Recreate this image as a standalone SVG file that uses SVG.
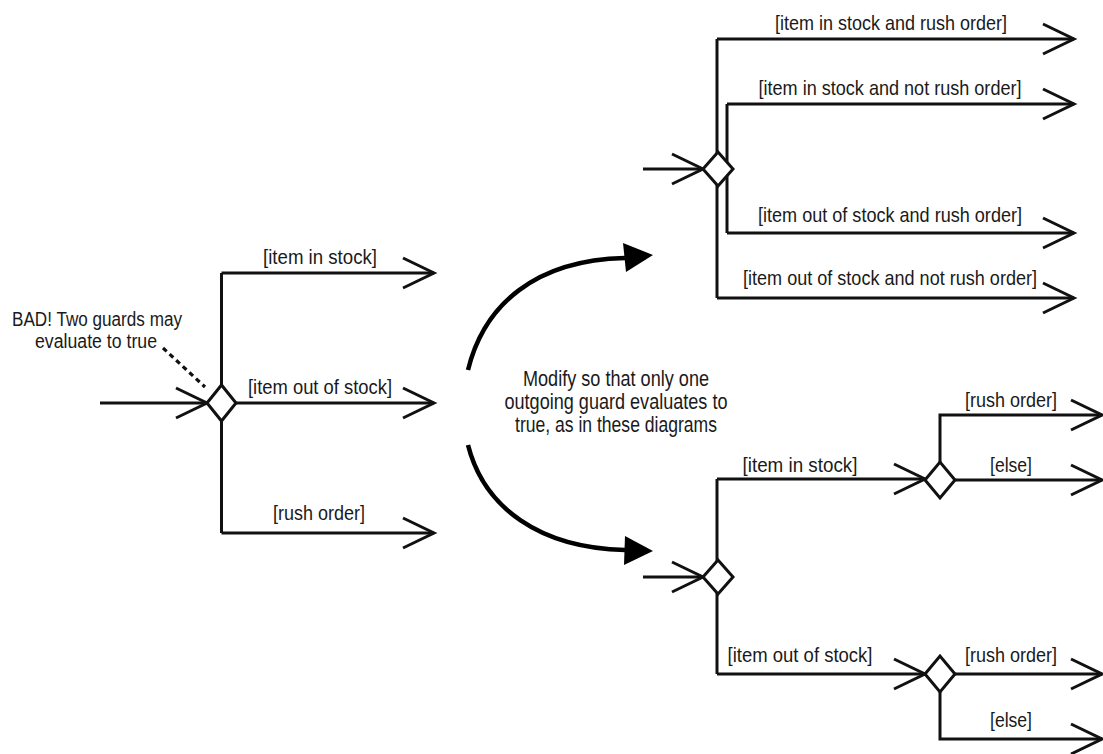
<svg xmlns="http://www.w3.org/2000/svg" width="1103" height="754" viewBox="0 0 1103 754">
  <style>
    .ln { fill: none; stroke: #111; stroke-width: 3; }
    .arr { marker-end: url(#open); }
    .dia { fill: #fff; stroke: #111; stroke-width: 3; stroke-linejoin: miter; }
    .curve { fill: none; stroke: #000; stroke-width: 4.5; stroke-linecap: butt; }
    .head { fill: #000; stroke: none; }
    .dash { fill: none; stroke: #111; stroke-width: 3.2; stroke-dasharray: 5 4; }
    text { font-family: "Liberation Sans Narrow", "Liberation Sans", Arial, sans-serif; fill: #1a1a1a; text-anchor: middle; }
    .lbl { font-size: 20px; }
    .lblr { font-size: 21px; }
    .note { font-size: 20px; }
    .mid { font-size: 22px; }
  </style>
  <defs>
    <marker id="open" markerUnits="userSpaceOnUse" markerWidth="36" markerHeight="36" viewBox="0 0 36 36" refX="33" refY="18" orient="auto" overflow="visible">
      <path d="M2,3 L33,18 L2,33" fill="none" stroke="#111" stroke-width="3"/>
    </marker>
  </defs>
  <rect width="1103" height="754" fill="#fff"/>

  <g id="connectors">
    <!-- left -->
    <path class="ln arr" d="M100,403 H207"/>
    <path class="ln" d="M221.5,273 V533"/>
    <path class="ln arr" d="M221.5,273 H434"/>
    <path class="ln arr" d="M236,403 H434"/>
    <path class="ln arr" d="M221.5,533 H434"/>
    <path class="dash" d="M163,348 L205,387"/>
    <text class="lbl" x="320" y="264" textLength="114" lengthAdjust="spacingAndGlyphs">[item in stock]</text>
    <text class="lbl" x="320" y="394" textLength="144" lengthAdjust="spacingAndGlyphs">[item out of stock]</text>
    <text class="lbl" x="319" y="520" textLength="92" lengthAdjust="spacingAndGlyphs">[rush order]</text>

    <!-- curved transition arrows -->
    <path class="curve" d="M468,370 C484,305 535,260 625,258"/>
    <polygon class="head" points="653,255 623,243 626,272"/>
    <path class="curve" d="M468,445 C484,508 540,548 625,550"/>
    <polygon class="head" points="653,551 625,536 624,565"/>

    <!-- top right -->
    <path class="ln arr" d="M643,169 H703"/>
    <path class="ln" d="M717,39 V298"/>
    <path class="ln" d="M727,104 V233"/>
    <path class="ln arr" d="M717,39 H1074"/>
    <path class="ln arr" d="M727,104 H1074"/>
    <path class="ln arr" d="M727,233 H1074"/>
    <path class="ln arr" d="M717,298 H1074"/>
    <text class="lblr" x="891" y="30" textLength="232" lengthAdjust="spacingAndGlyphs">[item in stock and rush order]</text>
    <text class="lblr" x="890" y="95" textLength="263" lengthAdjust="spacingAndGlyphs">[item in stock and not rush order]</text>
    <text class="lblr" x="890" y="222" textLength="264" lengthAdjust="spacingAndGlyphs">[item out of stock and rush order]</text>
    <text class="lblr" x="890" y="285" textLength="294" lengthAdjust="spacingAndGlyphs">[item out of stock and not rush order]</text>

    <!-- bottom right -->
    <path class="ln arr" d="M643,577 H703"/>
    <path class="ln" d="M717,479 V674"/>
    <path class="ln arr" d="M717,479 H925"/>
    <path class="ln arr" d="M717,674 H925"/>
    <path class="ln arr" d="M940,462 V415 H1102"/>
    <path class="ln arr" d="M955,480 H1102"/>
    <path class="ln arr" d="M955,674 H1102"/>
    <path class="ln arr" d="M940,692 V739 H1102"/>
    <text class="lblr" x="800" y="472" textLength="115" lengthAdjust="spacingAndGlyphs">[item in stock]</text>
    <text class="lblr" x="800" y="662" textLength="145" lengthAdjust="spacingAndGlyphs">[item out of stock]</text>
    <text class="lblr" x="1011" y="407" textLength="92" lengthAdjust="spacingAndGlyphs">[rush order]</text>
    <text class="lblr" x="1011" y="472" textLength="42" lengthAdjust="spacingAndGlyphs">[else]</text>
    <text class="lblr" x="1011" y="662" textLength="92" lengthAdjust="spacingAndGlyphs">[rush order]</text>
    <text class="lblr" x="1011" y="727" textLength="42" lengthAdjust="spacingAndGlyphs">[else]</text>
  </g>

  <g id="decision-left">
    <polygon class="dia" points="207,403 221.5,385 236,403 221.5,421"/>
  </g>
  <g id="decision-top">
    <polygon class="dia" points="703,169 718,152 733,169 718,186"/>
  </g>
  <g id="decision-bottom">
    <polygon class="dia" points="703,577 718,560 733,577 718,594"/>
  </g>
  <g id="decision-instock">
    <polygon class="dia" points="925,480 940,462 955,480 940,498"/>
  </g>
  <g id="decision-outofstock">
    <polygon class="dia" points="925,674 940,656 955,674 940,692"/>
  </g>

  <g id="note-bad">
    <text class="note" x="97" y="326" textLength="170" lengthAdjust="spacingAndGlyphs">BAD! Two guards may</text>
    <text class="note" x="96" y="348" textLength="122" lengthAdjust="spacingAndGlyphs">evaluate to true</text>
  </g>
  <g id="note-modify">
    <text class="mid" x="616" y="386" textLength="186" lengthAdjust="spacingAndGlyphs">Modify so that only one</text>
    <text class="mid" x="616" y="409" textLength="223" lengthAdjust="spacingAndGlyphs">outgoing guard evaluates to</text>
    <text class="mid" x="616" y="432" textLength="202" lengthAdjust="spacingAndGlyphs">true, as in these diagrams</text>
  </g>
</svg>
